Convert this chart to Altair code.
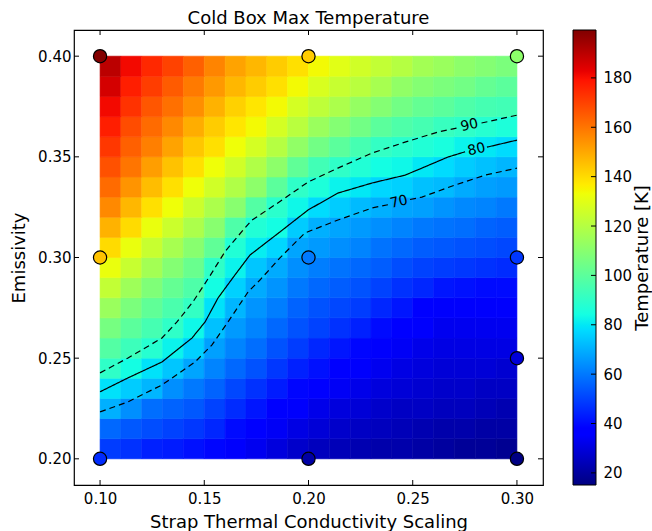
import altair as alt
import pandas as pd

FONT = "DejaVu Sans"

# ---------------- data ----------------
# heat-map cell centres
x_centres = [0.105, 0.115, 0.125, 0.135, 0.145, 0.155, 0.165, 0.175, 0.185, 0.195,
             0.205, 0.215, 0.225, 0.235, 0.245, 0.255, 0.265, 0.275, 0.285, 0.295]
y_centres = [0.205, 0.215, 0.225, 0.235, 0.245, 0.255, 0.265, 0.275, 0.285, 0.295,
             0.305, 0.315, 0.325, 0.335, 0.345, 0.355, 0.365, 0.375, 0.385, 0.395]
# temperature [K] of each cell, one row per y centre (bottom to top)
temp_rows = [
    [49, 47, 44, 43, 41, 39, 35, 33, 30, 27, 25, 24, 23, 22, 22, 21, 20, 19, 19, 18],
    [57, 54, 52, 50, 48, 45, 40, 36, 34, 31, 29, 27, 26, 25, 24, 23, 22, 22, 21, 21],
    [70, 64, 58, 56, 54, 50, 46, 42, 38, 35, 32, 30, 29, 27, 26, 26, 25, 25, 24, 23],
    [79, 75, 71, 64, 60, 56, 51, 47, 43, 39, 36, 34, 32, 30, 29, 28, 27, 27, 26, 26],
    [90, 84, 79, 74, 68, 62, 57, 53, 48, 44, 41, 37, 35, 33, 31, 30, 29, 29, 29, 28],
    [98, 93, 88, 82, 76, 67, 62, 58, 53, 49, 45, 42, 39, 35, 34, 32, 31, 31, 31, 31],
    [106, 100, 95, 90, 83, 73, 66, 62, 57, 53, 50, 47, 44, 40, 36, 35, 33, 33, 33, 33],
    [114, 107, 101, 96, 91, 79, 71, 65, 61, 56, 53, 51, 49, 45, 42, 38, 35, 35, 35, 35],
    [123, 115, 108, 102, 97, 84, 76, 69, 65, 60, 57, 55, 53, 50, 47, 45, 42, 41, 40, 40],
    [132, 124, 116, 109, 103, 90, 82, 74, 69, 64, 61, 59, 57, 55, 52, 50, 49, 48, 47, 46],
    [140, 132, 124, 117, 110, 101, 87, 81, 77, 68, 66, 64, 62, 59, 57, 55, 54, 53, 52, 51],
    [148, 140, 132, 125, 118, 110, 97, 87, 84, 75, 70, 68, 66, 64, 62, 60, 59, 58, 56, 55],
    [156, 147, 139, 133, 125, 118, 110, 98, 89, 83, 78, 75, 72, 70, 68, 67, 65, 63, 62, 60],
    [162, 154, 146, 139, 133, 126, 119, 111, 100, 90, 86, 82, 80, 77, 76, 73, 72, 69, 67, 66],
    [167, 160, 152, 145, 139, 133, 126, 119, 111, 101, 94, 90, 87, 84, 83, 80, 78, 75, 73, 71],
    [172, 164, 158, 151, 144, 139, 133, 127, 120, 112, 105, 100, 95, 91, 89, 87, 85, 82, 80, 78],
    [177, 168, 162, 156, 149, 143, 138, 134, 127, 121, 114, 109, 105, 100, 97, 95, 92, 90, 88, 86],
    [181, 173, 166, 161, 155, 148, 142, 138, 134, 127, 122, 118, 113, 109, 105, 102, 100, 97, 95, 94],
    [186, 177, 171, 165, 159, 153, 147, 143, 139, 134, 128, 124, 121, 117, 112, 109, 107, 105, 102, 100],
    [190, 181, 175, 170, 164, 157, 151, 147, 143, 139, 134, 130, 126, 123, 120, 116, 114, 111, 109, 107],
]

# measured points
pt_x = [0.10, 0.20, 0.30, 0.10, 0.20, 0.30, 0.30, 0.10, 0.20, 0.30]
pt_y = [0.40, 0.40, 0.40, 0.30, 0.30, 0.30, 0.25, 0.20, 0.20, 0.20]
pt_t = [199, 143, 111, 145, 60, 48, 29, 46, 21, 15.5]

# contour lines (segments split where the inline labels sit)
c90a_x = [0.100, 0.1134, 0.1297, 0.1369, 0.1446, 0.1528, 0.1600, 0.1686, 0.1729, 0.1873,
          0.1998, 0.2141, 0.2305, 0.2463, 0.2621, 0.2720]
c90a_y = [0.2427, 0.2501, 0.2600, 0.2680, 0.2780, 0.2910, 0.3030, 0.3136, 0.3186, 0.3285,
          0.3375, 0.3444, 0.3519, 0.3573, 0.3623, 0.3645]
c90b_x = [0.2830, 0.3000]
c90b_y = [0.3668, 0.3707]
c80a_x = [0.100, 0.1134, 0.1297, 0.1441, 0.1504, 0.1566, 0.1647, 0.1719, 0.1863, 0.1998,
          0.2141, 0.2305, 0.2463, 0.2544, 0.2669, 0.2751]
c80a_y = [0.2333, 0.2402, 0.2481, 0.2600, 0.2680, 0.2799, 0.2913, 0.3012, 0.3127, 0.3236,
          0.3320, 0.3370, 0.3409, 0.3444, 0.3499, 0.3525]
c80b_x = [0.2856, 0.3000]
c80b_y = [0.3548, 0.3583]
c70a_x = [0.100, 0.1134, 0.1297, 0.1456, 0.1537, 0.1614, 0.1710, 0.1767, 0.1863, 0.1983,
          0.2141, 0.2305, 0.2381]
c70a_y = [0.2233, 0.2283, 0.2367, 0.2481, 0.2566, 0.2680, 0.2829, 0.2888, 0.2998, 0.3122,
          0.3186, 0.3246, 0.3262]
c70b_x = [0.2487, 0.2544, 0.2703, 0.2847, 0.3000]
c70b_y = [0.3288, 0.3300, 0.3360, 0.3409, 0.3444]

lab_text = ["90", "80", "70"]
lab_x = [0.2772, 0.2806, 0.2434]
lab_y = [0.3657, 0.3536, 0.3275]

x_ticks = [0.10, 0.15, 0.20, 0.25, 0.30]
y_ticks = [0.20, 0.25, 0.30, 0.35, 0.40]
cb_ticks = [20, 40, 60, 80, 100, 120, 140, 160, 180]
cb_min, cb_max = 15.1, 199.4

# ---------------- tables ----------------
half = 0.005
heat = pd.DataFrame([
    {"x0": xc - half, "x1": xc + half, "y0": yc - half, "y1": yc + half, "T": t}
    for yc, row in zip(y_centres, temp_rows)
    for xc, t in zip(x_centres, row)
])
pts = pd.DataFrame({"x": pt_x, "y": pt_y, "T": pt_t})

segs = [("90a", 90, c90a_x, c90a_y), ("90b", 90, c90b_x, c90b_y),
        ("80a", 80, c80a_x, c80a_y), ("80b", 80, c80b_x, c80b_y),
        ("70a", 70, c70a_x, c70a_y), ("70b", 70, c70b_x, c70b_y)]
cont = pd.DataFrame([
    {"seg": s, "style": "solid" if lev == 80 else "dashed", "i": i, "x": x, "y": y}
    for s, lev, xs, ys in segs for i, (x, y) in enumerate(zip(xs, ys))
])
labels = pd.DataFrame({"x": lab_x, "y": lab_y, "txt": lab_text})
xt = pd.DataFrame({"v": x_ticks})
yt = pd.DataFrame({"v": y_ticks})
cbt = pd.DataFrame({"v": cb_ticks})
cbar = pd.DataFrame({"lo": [cb_min], "hi": [cb_max]})

# ---------------- jet colour map ----------------
jet_t = [0.0, 0.11, 0.125, 0.34, 0.35, 0.375, 0.64, 0.65, 0.66, 0.89, 0.91, 1.0]
jet_c = ["#000080", "#0000ff", "#0000ff", "#00dbff", "#00e6f7", "#15ffe2",
         "#efff08", "#f7f500", "#ffec00", "#ff1300", "#e80000", "#800000"]
cscale = alt.Scale(domain=[cb_min + t * (cb_max - cb_min) for t in jet_t],
                   range=jet_c, interpolate="rgb", clamp=True)

W, H = 469, 455
xscale = alt.Scale(domain=[0.0875, 0.3125], nice=False, zero=False)
yscale = alt.Scale(domain=[0.187, 0.413], nice=False, zero=False)
common_axis = dict(ticks=False, tickSize=0, domain=False, grid=False,
                   labelFont=FONT, titleFont=FONT, labelColor="black", titleColor="black",
                   labelFontSize=15, titleFontSize=18, titleFontWeight="normal",
                   labelFontWeight="normal", titleAlign="center", titleBaseline="alphabetic")
xaxis = alt.Axis(values=x_ticks, format=".2f", labelPadding=6,
                 title="Strap Thermal Conductivity Scaling",
                 titleX=W / 2, titleY=42, **common_axis)
yaxis = alt.Axis(values=y_ticks, format=".2f", labelPadding=3,
                 title="Emissivity", titleAngle=270,
                 titleX=-50, titleY=H / 2, **common_axis)


def X(f):
    return alt.X(f, type="quantitative", scale=xscale, axis=xaxis)


def Y(f):
    return alt.Y(f, type="quantitative", scale=yscale, axis=yaxis)


heat_layer = alt.Chart(heat).mark_rect(strokeWidth=0.6).encode(
    x=X("x0"), x2="x1", y=Y("y0"), y2="y1",
    color=alt.Color("T:Q", scale=cscale, legend=None),
    stroke=alt.Stroke("T:Q", scale=cscale, legend=None),
)
line_layer = alt.Chart(cont).mark_line(color="black", strokeWidth=1.2).encode(
    x=X("x"), y=Y("y"), detail="seg:N", order="i:Q",
    strokeDash=alt.StrokeDash("style:N", legend=None,
                              scale=alt.Scale(domain=["dashed", "solid"],
                                              range=[[6, 4], [1, 0]])),
)
label_layer = alt.Chart(labels).mark_text(font=FONT, fontSize=14, angle=347,
                                          color="black", baseline="middle").encode(
    x=X("x"), y=Y("y"), text="txt:N",
)
pt_layer = alt.Chart(pts).mark_point(shape="circle", filled=True, size=175,
                                     stroke="black", strokeWidth=1.2, opacity=1).encode(
    x=X("x"), y=Y("y"),
    color=alt.Color("T:Q", scale=cscale, legend=None),
)
tick_style = dict(color="black", strokeWidth=1)
xt_top = alt.Chart(xt).mark_rule(**tick_style).encode(x=X("v"), y=alt.value(0), y2=alt.value(5))
xt_bot = alt.Chart(xt).mark_rule(**tick_style).encode(x=X("v"), y=alt.value(H - 5), y2=alt.value(H))
yt_left = alt.Chart(yt).mark_rule(**tick_style).encode(y=Y("v"), x=alt.value(0), x2=alt.value(5))
yt_right = alt.Chart(yt).mark_rule(**tick_style).encode(y=Y("v"), x=alt.value(W - 5), x2=alt.value(W))

main = alt.layer(heat_layer, line_layer, label_layer, pt_layer,
                 xt_top, xt_bot, yt_left, yt_right)

# ---------------- colour bar ----------------
CB_X0, CB_X1 = 499, 522
cb_yscale = alt.Scale(domain=[cb_min, cb_max], nice=False, zero=False)
cb_axis = alt.Axis(orient="right", offset=CB_X1 - W, values=cb_ticks, format="d",
                   labelPadding=7, title="Temperature [K]", titleAngle=270,
                   titleX=51, titleY=H / 2, **common_axis)
grad = alt.LinearGradient(
    gradient="linear", x1=0, x2=0, y1=1, y2=0,
    stops=[alt.GradientStop(offset=t, color=c) for t, c in zip(jet_t, jet_c)],
)
cb_rect = alt.Chart(cbar).mark_rect(fill=grad, stroke="black", strokeWidth=1).encode(
    x=alt.value(CB_X0), x2=alt.value(CB_X1),
    y=alt.Y("lo:Q", scale=cb_yscale, axis=cb_axis), y2="hi:Q",
)
cb_ticks_layer = alt.Chart(cbt).mark_rule(color="black", strokeWidth=1).encode(
    y=alt.Y("v:Q", scale=cb_yscale, axis=cb_axis),
    x=alt.value(CB_X1 - 5), x2=alt.value(CB_X1),
)
cb = alt.layer(cb_rect, cb_ticks_layer)

chart = alt.layer(main, cb).resolve_scale(y="independent").properties(
    width=W, height=H,
    autosize=alt.AutoSizeParams(type="none"),
    padding={"left": 74, "top": 30, "right": 109, "bottom": 46},
    title=alt.TitleParams("Cold Box Max Temperature", font=FONT, fontSize=18,
                          fontWeight="normal", color="black", anchor="middle",
                          frame="group", baseline="alphabetic", offset=5, dy=17),
).configure(
    background="white"
).configure_view(
    stroke="black", strokeWidth=1.2
)

chart.save("out.html", embed_options={"renderer": "svg", "actions": False})
